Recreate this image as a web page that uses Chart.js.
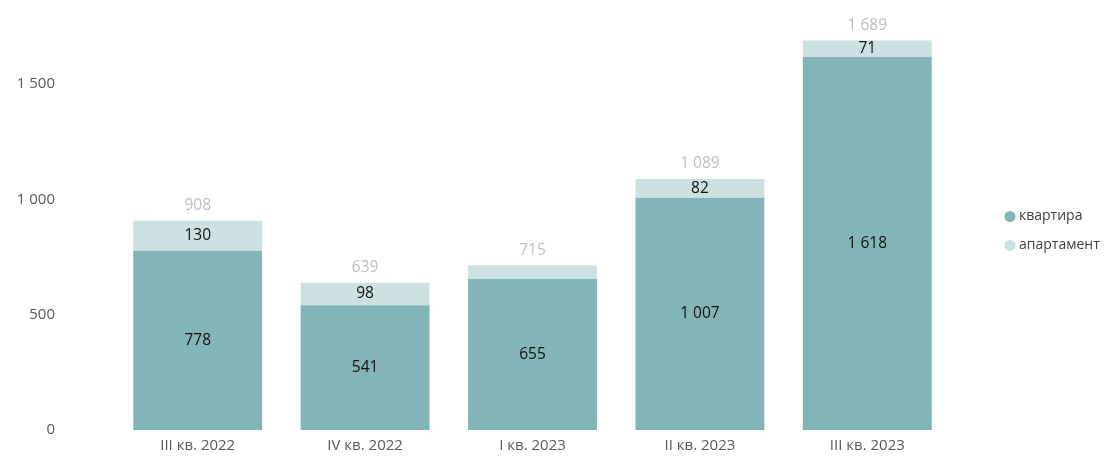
<!DOCTYPE html>
<html>
<head>
<meta charset="utf-8">
<script src="https://cdn.jsdelivr.net/npm/chart.js@4"></script>
<style>
  html, body { margin: 0; padding: 0; background: #fff; overflow: hidden; }
  canvas { display: block; }
</style>
</head>
<body>
<canvas id="salesChart" width="1115" height="471"></canvas>
<script>
// Chart data
const quarters = ['III кв. 2022', 'IV кв. 2022', 'I кв. 2023', 'II кв. 2023', 'III кв. 2023'];
const flats = [778, 541, 655, 1007, 1618];
const apartments = [130, 98, 60, 82, 71];
const yTicks = [0, 500, 1000, 1500];

const FONT = "'Segoe UI', 'Open Sans', 'Noto Sans', sans-serif";

function fmt(v) {
    return String(v).replace(/\B(?=(\d{3})+(?!\d))/g, ' ');
}

// Draw the value inside each segment and the total above each bar
const valueLabels = {
    id: 'valueLabels',
    afterDatasetsDraw(chart) {
        const ctx = chart.ctx;
        ctx.save();
        ctx.textAlign = 'center';
        ctx.textBaseline = 'middle';
        ctx.font = '15.5px ' + FONT;
        ctx.fillStyle = '#111';
        chart.data.datasets.forEach((ds, di) => {
            const meta = chart.getDatasetMeta(di);
            meta.data.forEach((bar, i) => {
                const h = Math.abs(bar.base - bar.y);
                if (h < 15) return;   // too thin for a label (the 60 in I кв. 2023)
                ctx.fillText(fmt(ds.data[i]), bar.x, (bar.y + bar.base) / 2);
            });
        });
        const top = chart.getDatasetMeta(1);
        ctx.fillStyle = '#bfbfbf';
        top.data.forEach((bar, i) => {
            ctx.fillText(fmt(flats[i] + apartments[i]), bar.x, bar.y - 15);
        });
        ctx.restore();
    }
};

// Legend on the right, detached from the plot like in the original
const sideLegend = {
    id: 'sideLegend',
    afterDraw(chart) {
        const ctx = chart.ctx;
        const area = chart.chartArea;
        const x = area.right + 59;
        let y = (area.top + area.bottom) / 2 - 6;
        ctx.save();
        ctx.font = '14px ' + FONT;
        ctx.textAlign = 'left';
        ctx.textBaseline = 'middle';
        chart.data.datasets.forEach(ds => {
            ctx.fillStyle = ds.backgroundColor;
            ctx.beginPath();
            ctx.arc(x, y, 5.5, 0, Math.PI * 2);
            ctx.fill();
            ctx.fillStyle = '#404040';
            ctx.fillText(ds.label, x + 9, y);
            y += 29;
        });
        ctx.restore();
    }
};

const ctx = document.getElementById('salesChart').getContext('2d');
const chart = new Chart(ctx, {
    type: 'bar',
    data: {
        labels: quarters,
        datasets: [
            {
                label: 'квартира',
                data: flats,
                backgroundColor: '#82b4b8',
                categoryPercentage: 0.77,
                barPercentage: 1.0
            },
            {
                label: 'апартамент',
                data: apartments,
                backgroundColor: '#cde1e3',
                categoryPercentage: 0.77,
                barPercentage: 1.0
            }
        ]
    },
    options: {
        responsive: false,
        animation: false,
        devicePixelRatio: 1,
        layout: {
            padding: { top: 15, right: 164, bottom: 9, left: 0 }
        },
        plugins: {
            tooltip: { enabled: false },
            legend: { display: false }
        },
        scales: {
            x: {
                stacked: true,
                grid: { display: false, drawTicks: false },
                border: { display: false },
                ticks: {
                    color: '#595959',
                    padding: 7,
                    font: { family: FONT, size: 15 }
                }
            },
            y: {
                stacked: true,
                min: 0,
                max: 1800,
                grid: { display: false, drawTicks: true, tickLength: 55 },
                border: { display: false },
                afterBuildTicks(axis) {
                    axis.ticks = yTicks.map(v => ({ value: v }));
                },
                afterFit(axis) {
                    axis.width = 114;
                },
                ticks: {
                    color: '#595959',
                    padding: 4,
                    font: { family: FONT, size: 15 },
                    callback: v => fmt(v)
                }
            }
        }
    },
    plugins: [valueLabels, sideLegend]
});
</script>
</body>
</html>
